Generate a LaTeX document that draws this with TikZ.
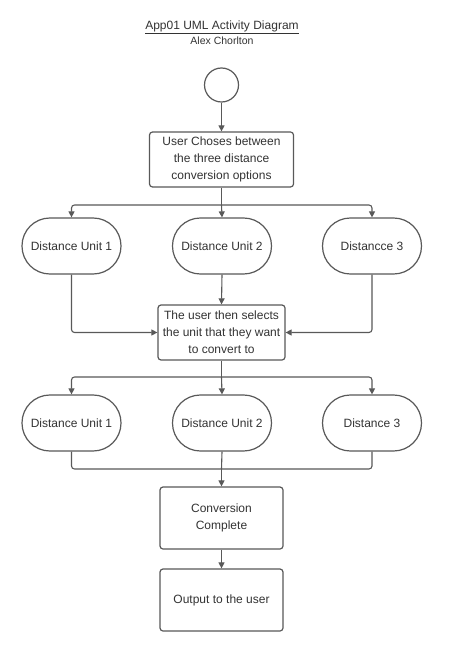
\documentclass[tikz,border=0pt]{standalone}
\usepackage{fontspec}
\setmainfont{Liberation Sans}
\usetikzlibrary{arrows.meta}
\definecolor{ink}{HTML}{333333}
\definecolor{edge}{HTML}{595959}
\begin{document}
\begin{tikzpicture}[x=1pt,y=-1pt,
  every node/.style={text=ink, font=\fontsize{12}{17}\selectfont},
  actbox/.style={draw=edge, line width=1.2pt, rounded corners=3pt, align=center, inner sep=0pt},
  unit/.style={draw=edge, line width=1.2pt, rounded corners=27.9pt, minimum width=99pt, minimum height=56pt, inner sep=0pt},
  flow/.style={draw=edge, line width=1.1pt, rounded corners=3pt, -{Triangle[length=6pt,width=6pt]}},
  wire/.style={draw=edge, line width=1.1pt, rounded corners=3pt}]
  % page
  \useasboundingbox[fill=white] (0,0) rectangle (455,668);

  % heading
  \node (title) at (222,27) {\underline{App01 UML Activity Diagram}};
  \node[font=\fontsize{10.5}{13}\selectfont] (author) at (222,41) {Alex Chorlton};

  % initial state
  \node[circle, draw=edge, line width=1.2pt, minimum size=34pt, inner sep=0pt] (start) at (221.5,85) {};

  % activities
  \node[actbox, minimum width=144pt, minimum height=55pt] (choose) at (221.5,159.5)
    {User Choses between\\the three distance\\conversion options};
  \node[unit] (u1a) at (71.5,246) {Distance Unit 1};
  \node[unit] (u2a) at (222,246) {Distance Unit 2};
  \node[unit] (u3a) at (372,246) {Distancce 3};
  \node[actbox, minimum width=127pt, minimum height=55pt] (select) at (221.5,332.5)
    {The user then selects\\the unit that they want\\to convert to};
  \node[unit] (u1b) at (71.5,423) {Distance Unit 1};
  \node[unit] (u2b) at (222,423) {Distance Unit 2};
  \node[unit] (u3b) at (372,423) {Distance 3};
  \node[actbox, minimum width=123pt, minimum height=62pt] (done) at (221.5,518)
    {Conversion\\Complete};
  \node[actbox, minimum width=123pt, minimum height=62pt] (out) at (221.5,600)
    {Output to the user};

  % junction points
  \coordinate (split1) at (221.5,205);
  \coordinate (split2) at (221.5,377);
  \coordinate (merge) at (221.5,469);

  % control flow
  \draw[flow] (start) -- (choose);
  \draw[wire] (choose.south) -- (split1);
  \draw[flow] (split1) -| (u1a.north);
  \draw[flow] (split1) -- (u2a.north);
  \draw[flow] (split1) -| (u3a.north);

  \draw[flow] (u1a.south) |- (select.west);
  \draw[flow] (u2a.south) -- (select.north);
  \draw[flow] (u3a.south) |- (select.east);

  \draw[wire] (select.south) -- (split2);
  \draw[flow] (split2) -| (u1b.north);
  \draw[flow] (split2) -- (u2b.north);
  \draw[flow] (split2) -| (u3b.north);

  \draw[wire] (u1b.south) |- (merge);
  \draw[wire] (u3b.south) |- (merge);
  \draw[wire] (u2b.south) -- (merge);
  \draw[flow] (merge) -- (done.north);
  \draw[flow] (done.south) -- (out.north);
\end{tikzpicture}
\end{document}
